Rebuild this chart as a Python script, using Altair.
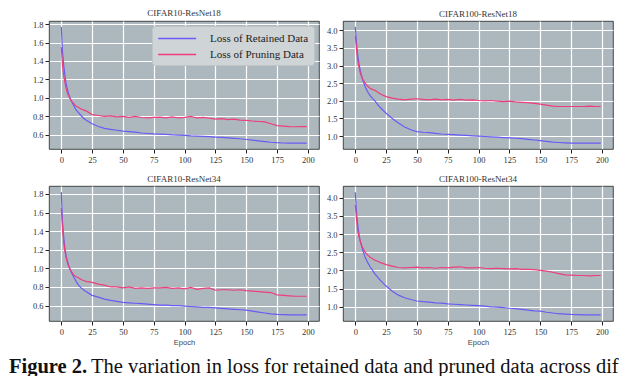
import altair as alt
import pandas as pd

SERIES = ["Loss of Retained Data", "Loss of Pruning Data"]
BG = "#adb8be"
BLUE = "#6a5af5"
PINK = "#ee3d7d"

epochs = [0, 1, 2, 3, 4, 5, 6, 8, 10, 12, 14, 16, 18, 20,
          25, 30, 35, 40, 45, 50, 55, 60, 65, 70, 75, 80, 85, 90, 95, 100,
          105, 110, 115, 120, 125, 130, 135, 140, 145, 150,
          155, 160, 165, 170, 175, 180, 185, 190, 195, 199]

c10r18_retained = [1.77, 1.50, 1.35, 1.24, 1.15, 1.09, 1.04, 0.97, 0.92, 0.87, 0.84, 0.81, 0.78, 0.76,
                   0.72, 0.69, 0.67, 0.66, 0.65, 0.64, 0.635, 0.63, 0.62, 0.615, 0.61, 0.607, 0.605, 0.60, 0.598, 0.595,
                   0.59, 0.587, 0.583, 0.58, 0.575, 0.572, 0.568, 0.563, 0.558, 0.55,
                   0.543, 0.535, 0.527, 0.52, 0.515, 0.512, 0.51, 0.51, 0.51, 0.51]
c10r18_pruning = [1.55, 1.35, 1.24, 1.16, 1.10, 1.05, 1.02, 0.97, 0.94, 0.91, 0.90, 0.88, 0.87, 0.86,
                  0.82, 0.81, 0.80, 0.805, 0.795, 0.80, 0.79, 0.80, 0.788, 0.785, 0.79, 0.792, 0.785, 0.795, 0.783, 0.79,
                  0.80, 0.783, 0.79, 0.78, 0.77, 0.775, 0.765, 0.77, 0.76, 0.757,
                  0.75, 0.745, 0.74, 0.72, 0.70, 0.695, 0.69, 0.688, 0.69, 0.69]

c100r18_retained = [4.10, 3.65, 3.30, 3.05, 2.87, 2.72, 2.60, 2.40, 2.26, 2.15, 2.07, 2.00, 1.90, 1.82,
                    1.65, 1.50, 1.37, 1.26, 1.18, 1.13, 1.11, 1.10, 1.08, 1.06, 1.05, 1.04, 1.03, 1.02, 1.01, 1.00,
                    0.99, 0.98, 0.97, 0.96, 0.95, 0.94, 0.93, 0.91, 0.89, 0.87,
                    0.85, 0.83, 0.82, 0.81, 0.80, 0.80, 0.80, 0.80, 0.80, 0.80]
c100r18_pruning = [3.85, 3.45, 3.15, 2.95, 2.80, 2.70, 2.62, 2.50, 2.42, 2.36, 2.32, 2.30, 2.25, 2.20,
                   2.12, 2.08, 2.05, 2.03, 2.05, 2.06, 2.04, 2.03, 2.05, 2.03, 2.04, 2.02, 2.04, 2.02, 2.03, 2.01,
                   2.00, 2.01, 1.99, 1.98, 1.99, 1.97, 1.96, 1.95, 1.93, 1.91,
                   1.88, 1.85, 1.84, 1.84, 1.84, 1.84, 1.84, 1.85, 1.84, 1.84]

c10r34_retained = [1.82, 1.50, 1.33, 1.21, 1.13, 1.08, 1.03, 0.96, 0.91, 0.86, 0.82, 0.79, 0.77, 0.75,
                   0.71, 0.69, 0.67, 0.655, 0.645, 0.635, 0.63, 0.625, 0.62, 0.615, 0.61, 0.605, 0.605, 0.60, 0.60, 0.595,
                   0.59, 0.585, 0.58, 0.58, 0.575, 0.57, 0.565, 0.56, 0.555, 0.55,
                   0.54, 0.53, 0.52, 0.51, 0.505, 0.502, 0.50, 0.50, 0.50, 0.50]
c10r34_pruning = [1.65, 1.42, 1.28, 1.18, 1.11, 1.06, 1.02, 0.97, 0.93, 0.91, 0.90, 0.88, 0.87, 0.86,
                  0.85, 0.83, 0.82, 0.80, 0.80, 0.79, 0.80, 0.785, 0.79, 0.785, 0.79, 0.79, 0.795, 0.785, 0.79, 0.78,
                  0.795, 0.775, 0.785, 0.79, 0.765, 0.77, 0.77, 0.765, 0.77, 0.76,
                  0.755, 0.75, 0.745, 0.74, 0.715, 0.71, 0.705, 0.70, 0.70, 0.70]

c100r34_retained = [4.15, 3.60, 3.25, 3.00, 2.82, 2.68, 2.56, 2.36, 2.22, 2.10, 2.00, 1.90, 1.82, 1.74,
                    1.57, 1.43, 1.32, 1.25, 1.20, 1.16, 1.14, 1.13, 1.11, 1.10, 1.08, 1.07, 1.06, 1.05, 1.04, 1.03,
                    1.02, 1.00, 0.99, 0.98, 0.96, 0.95, 0.93, 0.91, 0.89, 0.88,
                    0.85, 0.83, 0.81, 0.80, 0.79, 0.785, 0.78, 0.78, 0.78, 0.78]
c100r34_pruning = [3.80, 3.40, 3.10, 2.92, 2.80, 2.70, 2.62, 2.50, 2.42, 2.36, 2.32, 2.28, 2.25, 2.22,
                   2.16, 2.12, 2.08, 2.07, 2.08, 2.09, 2.07, 2.08, 2.06, 2.08, 2.07, 2.09, 2.10, 2.07, 2.07, 2.08,
                   2.06, 2.05, 2.06, 2.05, 2.04, 2.05, 2.03, 2.03, 2.02, 2.00,
                   1.98, 1.95, 1.91, 1.88, 1.87, 1.86, 1.86, 1.85, 1.86, 1.86]

x_ticks = [0, 25, 50, 75, 100, 125, 150, 175, 200]
yticks_c10 = [0.6, 0.8, 1.0, 1.2, 1.4, 1.6, 1.8]
yticks_c100 = [1.0, 1.5, 2.0, 2.5, 3.0, 3.5, 4.0]

caption_label = "Figure 2."
caption_text = "The variation in loss for retained data and pruned data across dif"


def panel(title, retained, pruning, ydom, yticks, height, minext, show_legend, show_xtitle):
    df = pd.DataFrame({
        "epoch": epochs + epochs,
        "loss": retained + pruning,
        "series": [SERIES[0]] * len(epochs) + [SERIES[1]] * len(epochs),
    })
    if show_legend:
        legend = alt.Legend(orient="top-right", offset=5, title=None,
                            fillColor="#cfd4d7", strokeColor="#bfc4c7", cornerRadius=3,
                            padding=5, symbolType="M-1,0H5", symbolSize=160,
                            symbolStrokeWidth=1.6, labelFont="Liberation Serif",
                            labelFontSize=11, labelColor="#222", labelOffset=38,
                            rowPadding=3)
    else:
        legend = None
    xaxis = alt.Axis(values=x_ticks, title="Epoch" if show_xtitle else None)
    return alt.Chart(df).mark_line(strokeWidth=1.2, clip=True).encode(
        x=alt.X("epoch:Q", scale=alt.Scale(domain=[-9.95, 208.95], nice=False, zero=False), axis=xaxis),
        y=alt.Y("loss:Q", scale=alt.Scale(domain=ydom, nice=False, zero=False),
                axis=alt.Axis(values=yticks, format=".1f", title=None, minExtent=minext)),
        color=alt.Color("series:N", scale=alt.Scale(domain=SERIES, range=[BLUE, PINK]), legend=legend),
    ).properties(
        width=270, height=height,
        title=alt.TitleParams(title, fontSize=9, font="Liberation Serif", color="#333",
                              offset=2, fontWeight="normal"),
        view=alt.ViewBackground(fill=BG, stroke="#222", strokeWidth=0.8),
    )


tl = panel("CIFAR10-ResNet18", c10r18_retained, c10r18_pruning, [0.447, 1.833], yticks_c10, 128, 40, True, False)
tr = panel("CIFAR100-ResNet18", c100r18_retained, c100r18_pruning, [0.635, 4.265], yticks_c100, 128, 17, False, False)
bl = panel("CIFAR10-ResNet34", c10r34_retained, c10r34_pruning, [0.434, 1.886], yticks_c10, 135, 40, False, True)
br = panel("CIFAR100-ResNet34", c100r34_retained, c100r34_pruning, [0.61, 4.32], yticks_c100, 135, 17, False, True)

row1 = alt.hconcat(tl, tr, spacing=5).resolve_scale(color="independent").resolve_legend(color="independent")
row2 = alt.hconcat(bl, br, spacing=5).resolve_scale(color="independent").resolve_legend(color="independent")

# caption cell shares the rows' origin (40px right of the page edge), so its texts start left of it
bold = alt.Chart(pd.DataFrame({"t": [caption_label]})).mark_text(
    font="Liberation Serif", fontSize=20.5, fontWeight="bold", align="left", baseline="alphabetic",
    color="#111").encode(text="t:N", x=alt.value(-40), y=alt.value(16))
rest = alt.Chart(pd.DataFrame({"t": [caption_text]})).mark_text(
    font="Liberation Serif", fontSize=20.5, align="left", baseline="alphabetic",
    color="#111").encode(text="t:N", x=alt.value(42), y=alt.value(16))
cap = alt.layer(bold, rest).properties(width=540, height=22)

chart = alt.vconcat(row1, row2, cap, spacing=10).resolve_scale(color="independent").resolve_legend(
    color="independent"
).properties(
    padding={"left": 0, "top": 0, "right": 0, "bottom": 0}
).configure_view(stroke=None).configure_axis(
    grid=True, gridColor="white", gridWidth=1.2, domain=False,
    tickColor="#222", tickSize=4, tickWidth=1,
    labelFont="Liberation Serif", labelFontSize=8.5, labelColor="#333", labelPadding=2,
    titleFont="Liberation Sans", titleFontSize=7.5, titleColor="#444", titleFontWeight="normal", titlePadding=3,
)

chart.save("out.html", embed_options={"renderer": "svg", "actions": False})
